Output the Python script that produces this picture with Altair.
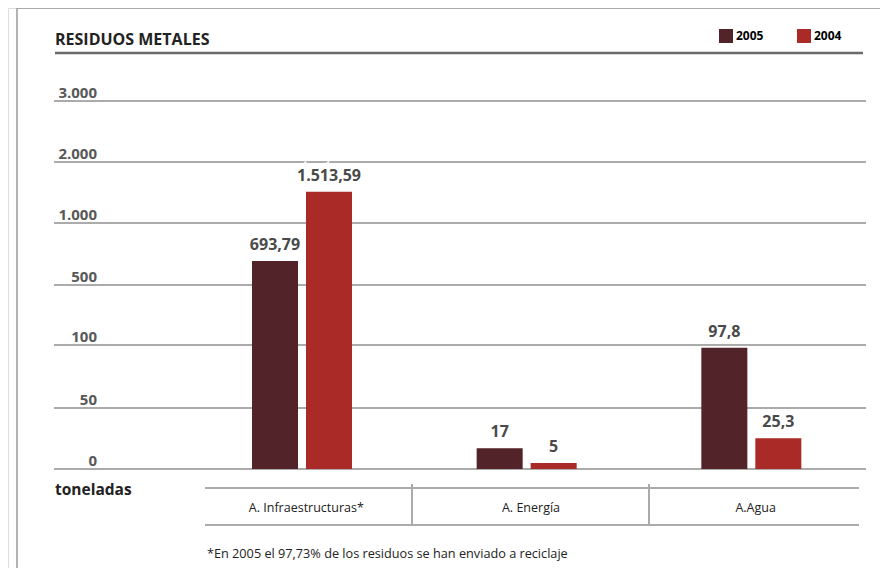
import altair as alt
import pandas as pd

# ---- data ----
categories = ["A. Infraestructuras*", "A. Energía", "A.Agua"]
years = ["2005", "2004"]
values_2005 = [693.79, 17, 97.8]
values_2004 = [1513.59, 5, 25.3]
labels_2005 = ["693,79", "17", "97,8"]
labels_2004 = ["1.513,59", "5", "25,3"]
tick_values = [0, 50, 100, 500, 1000, 2000, 3000]
tick_labels = ["0", "50", "100", "500", "1.000", "2.000", "3.000"]
colors = ["#53232A", "#A92A26"]
title_text = "RESIDUOS METALES"
unit_text = "toneladas"
footnote_text = "*En 2005 el 97,73% de los residuos se han enviado a reciclaje"

FONT = "Open Sans"

rows = []
for i, c in enumerate(categories):
    rows.append({"category": c, "year": years[0], "value": values_2005[i], "label": labels_2005[i]})
    rows.append({"category": c, "year": years[1], "value": values_2004[i], "label": labels_2004[i]})
df_bars = pd.DataFrame(rows)
df_ticks = pd.DataFrame({"value": tick_values, "label": tick_labels})
df_cats = pd.DataFrame({"category": categories})
one = pd.DataFrame({"k": [0]})

yscale = alt.Scale(domain=tick_values, range=[461, 400, 337, 277, 215, 154, 93], nice=False, zero=False)
xscale = alt.Scale(domain=categories, range=[182, 856], paddingInner=0, paddingOuter=0)
xoff = alt.XOffset("year:N", sort=years,
                   scale=alt.Scale(domain=years, range=[62, 162], paddingInner=0.148, paddingOuter=0))
X = alt.X("category:N", sort=categories, scale=xscale, axis=None)

# frame
frame_top = alt.Chart(one).mark_rule(color="#9a9a9a", strokeWidth=1.5).encode(
    x=alt.value(9), x2=alt.value(880), y=alt.value(0))
frame_left = alt.Chart(one).mark_rule(color="#9a9a9a", strokeWidth=1.5).encode(
    x=alt.value(9), y=alt.value(0), y2=alt.value(575))

# title + underline
title = alt.Chart(pd.DataFrame({"t": [title_text]})).mark_text(
    align="left", baseline="alphabetic", font=FONT, fontSize=16, fontWeight="bold", color="#222222"
).encode(text="t:N", x=alt.value(47), y=alt.value(37))
title_rule = alt.Chart(one).mark_rule(color="#6a6a6a", strokeWidth=2.5).encode(
    x=alt.value(47), x2=alt.value(855), y=alt.value(45))

# gridlines + tick labels
grid = alt.Chart(df_ticks).mark_rule(color="#ababab", strokeWidth=2).encode(
    y=alt.Y("value:Q", scale=yscale, axis=None), x=alt.value(46), x2=alt.value(858))
tick_text = alt.Chart(df_ticks).mark_text(
    align="right", baseline="alphabetic", dy=-3, font=FONT, fontSize=15, fontWeight="bold", color="#585858"
).encode(y=alt.Y("value:Q", scale=yscale, axis=None), text="label:N", x=alt.value(89))

# bars
bars = alt.Chart(df_bars).mark_bar().encode(
    x=X, xOffset=xoff,
    y=alt.Y("value:Q", scale=yscale, axis=None),
    color=alt.Color("year:N", sort=years, scale=alt.Scale(domain=years, range=colors),
                    legend=alt.Legend(orient="none", legendX=711, legendY=21, direction="horizontal",
                                      title=None, symbolType="square", symbolSize=196,
                                      symbolStrokeWidth=0, labelFont=FONT, labelFontSize=12,
                                      labelFontWeight="bold", labelColor="#000000",
                                      labelOffset=3, columnPadding=33, padding=0)),
)
halo = alt.Chart(df_bars).mark_text(
    baseline="alphabetic", dy=-11, font=FONT, fontSize=16, fontWeight="bold",
    color="white", stroke="white", strokeWidth=9
).encode(x=X, xOffset=xoff, y=alt.Y("value:Q", scale=yscale, axis=None), text="label:N")
value_text = alt.Chart(df_bars).mark_text(
    baseline="alphabetic", dy=-11, font=FONT, fontSize=16, fontWeight="bold", color="#4a4a4a"
).encode(x=X, xOffset=xoff, y=alt.Y("value:Q", scale=yscale, axis=None), text="label:N")

# unit label
unit = alt.Chart(pd.DataFrame({"t": [unit_text]})).mark_text(
    align="left", baseline="alphabetic", font=FONT, fontSize=15.5, fontWeight="bold", color="#222222"
).encode(text="t:N", x=alt.value(47), y=alt.value(487))

# category table
tab_top = alt.Chart(one).mark_rule(color="#ababab", strokeWidth=2).encode(
    x=alt.value(197), x2=alt.value(851), y=alt.value(480))
tab_bot = alt.Chart(one).mark_rule(color="#ababab", strokeWidth=2).encode(
    x=alt.value(197), x2=alt.value(851), y=alt.value(517))
div1 = alt.Chart(one).mark_rule(color="#ababab", strokeWidth=2).encode(
    x=alt.value(404), y=alt.value(476), y2=alt.value(518))
div2 = alt.Chart(one).mark_rule(color="#ababab", strokeWidth=2).encode(
    x=alt.value(641), y=alt.value(476), y2=alt.value(518))
cat_text = alt.Chart(df_cats).mark_text(
    baseline="alphabetic", dx=4, font=FONT, fontSize=12.5, color="#222222"
).encode(x=X, y=alt.value(504), text="category:N")

footnote = alt.Chart(pd.DataFrame({"t": [footnote_text]})).mark_text(
    align="left", baseline="alphabetic", font=FONT, fontSize=12.7, color="#222222"
).encode(text="t:N", x=alt.value(199), y=alt.value(550))

chart = alt.layer(
    frame_top, frame_left, title, title_rule, grid, tick_text, bars, halo, value_text,
    unit, tab_top, tab_bot, div1, div2, cat_text, footnote
).properties(
    width=872, height=560, autosize=alt.AutoSizeParams(type="none"),
    padding={"left": 0, "top": 0, "right": 0, "bottom": 0}
).configure_view(stroke=None).configure(background="white")

chart.save("out.html", embed_options={"renderer": "svg", "actions": False})
